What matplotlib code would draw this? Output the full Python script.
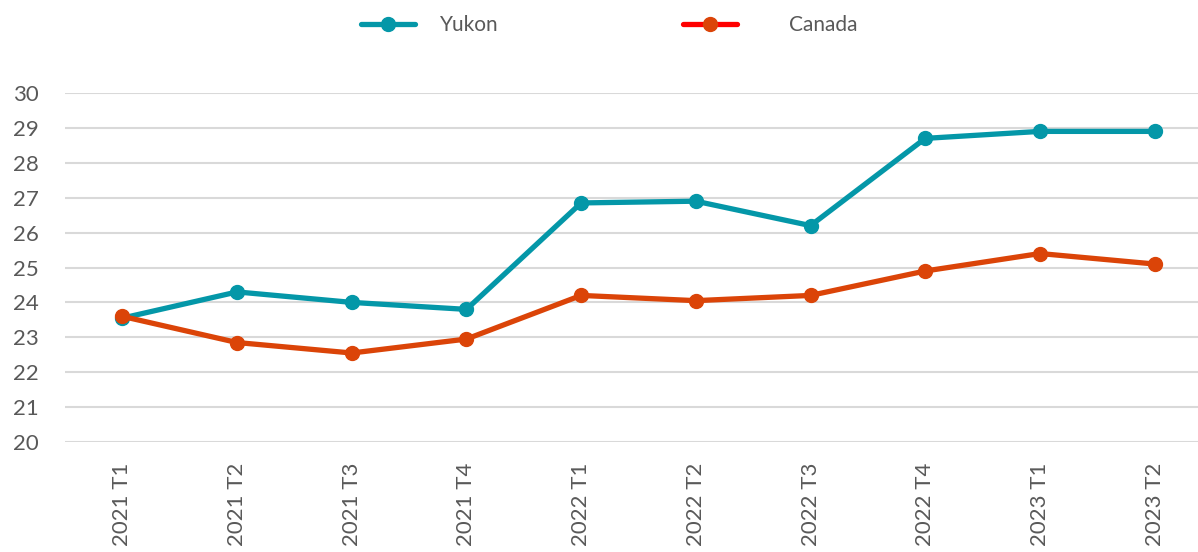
import matplotlib
matplotlib.use("Agg")
import matplotlib.pyplot as plt
from matplotlib.lines import Line2D

categories = ["2021 T1", "2021 T2", "2021 T3", "2021 T4", "2022 T1",
              "2022 T2", "2022 T3", "2022 T4", "2023 T1", "2023 T2"]
yukon = [23.55, 24.3, 24.0, 23.8, 26.85, 26.9, 26.2, 28.7, 28.9, 28.9]
canada = [23.6, 22.85, 22.55, 22.95, 24.2, 24.05, 24.2, 24.9, 25.4, 25.1]
yticks = [20, 21, 22, 23, 24, 25, 26, 27, 28, 29, 30]

TEAL = "#0497A8"
ORANGE = "#DB4408"
GRAY = "#595959"

plt.rcParams['font.family'] = ['Lato', 'DejaVu Sans']
plt.rcParams['font.weight'] = 'normal'

W, H = 1198, 552
fig = plt.figure(figsize=(W / 100, H / 100), dpi=100)
left, right, bottom, top = 65, 1212, 442, 93
ax = fig.add_axes([left / W, (H - bottom) / H, (right - left) / W, (bottom - top) / H])

x = list(range(len(categories)))
ax.plot(x, yukon, color=TEAL, lw=3.8, marker='o', ms=10, zorder=3, clip_on=False)
ax.plot(x, canada, color=ORANGE, lw=3.8, marker='o', ms=10, zorder=4, clip_on=False)

ax.set_xlim(-0.5, len(categories) - 0.5)
ax.set_ylim(20, 30)
ax.set_yticks(yticks)
ax.set_xticks(x)
ax.set_xticklabels(categories, rotation=90, va='top', ha='center')
ax.grid(axis='y', color='#d9d9d9', lw=1.5, zorder=0)
ax.set_axisbelow(True)
for s in ax.spines.values():
    s.set_visible(False)
ax.tick_params(axis='both', length=0, colors=GRAY, labelsize=16)
ax.tick_params(axis='y', pad=19)
ax.tick_params(axis='x', pad=15)

legprop = {'family': ['Lato', 'DejaVu Sans'], 'weight': 'normal', 'size': 15}
h1 = Line2D([], [], color=TEAL, lw=3.8, marker='o', ms=10, solid_capstyle='round')
h2 = Line2D([], [], color='#FF0000', lw=3.8, marker='o', ms=10, markerfacecolor=ORANGE,
            markeredgecolor=ORANGE, solid_capstyle='round')
fig.legend([h1], ["Yukon"], loc='center', bbox_to_anchor=(430 / W, 1 - 25 / H),
           frameon=False, prop=legprop, handlelength=2.6, handletextpad=1.2,
           labelcolor=GRAY)
fig.legend([h2], ["Canada"], loc='center', bbox_to_anchor=(770 / W, 1 - 25 / H),
           frameon=False, prop=legprop, handlelength=2.6, handletextpad=2.5,
           labelcolor=GRAY)

fig.savefig("out.png", dpi=100)
